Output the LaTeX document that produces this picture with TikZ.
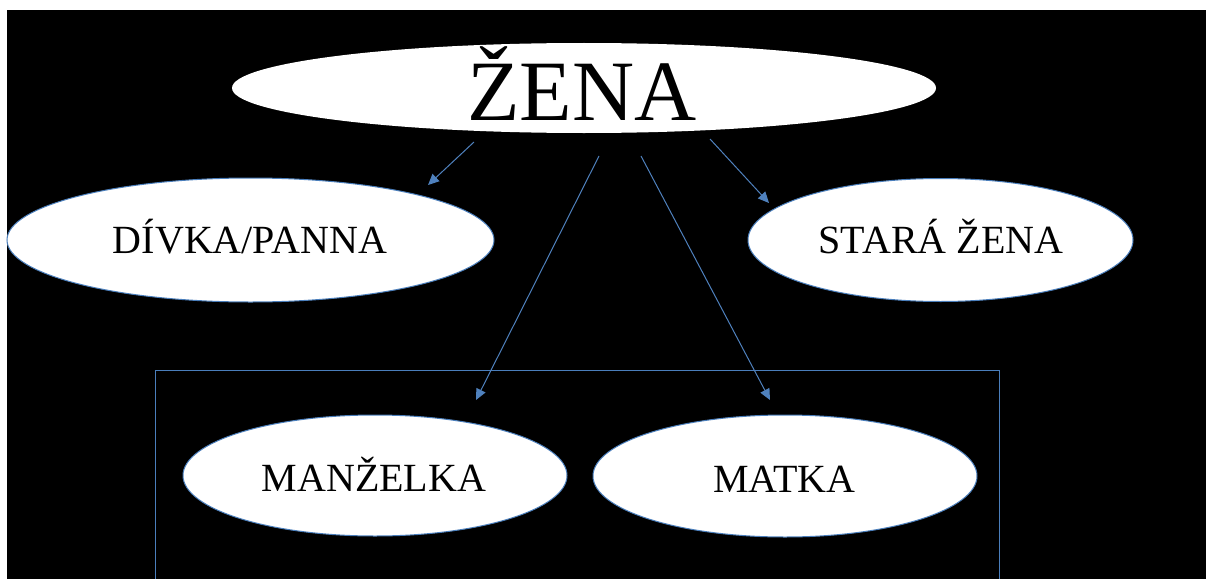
\documentclass[tikz,border=0pt]{standalone}
\usepackage{fontspec}
\setmainfont{Liberation Serif}
\usetikzlibrary{shapes.geometric,arrows.meta}
\definecolor{lineblue}{RGB}{79,129,189}
\definecolor{edgeblue}{RGB}{74,126,187}
\tikzset{
  oval/.style={ellipse, fill=white, draw=edgeblue, line width=1pt, inner sep=0pt},
  lbl/.style={anchor=base, inner sep=0pt, font=\fontsize{40}{48}\selectfont},
  conn/.style={draw=lineblue, line width=1pt, -{Triangle[length=11pt,width=10pt]}}
}
\begin{document}
\begin{tikzpicture}[x=1pt,y=-1pt]
\useasboundingbox (0,0) rectangle (1206,578);
\fill[white] (0,0) rectangle (1206,578);
\fill[black] (7,10) rectangle (1212,584);
% box
\draw[edgeblue, line width=1pt] (155.5,584) -- (155.5,370.5) -- (999,370.5) -- (999,584);
% ellipses
\node[ellipse, fill=white, inner sep=0pt, minimum width=704pt, minimum height=90pt] (zena) at (584,88) {};
\node[oval, minimum width=487pt, minimum height=124pt] (divka) at (250.5,240) {};
\node[oval, minimum width=385pt, minimum height=123pt] (stara) at (940.5,240) {};
\node[oval, minimum width=384pt, minimum height=121pt] (manzelka) at (375,475.5) {};
\node[oval, minimum width=384pt, minimum height=122pt] (matka) at (785,476) {};
% labels
\node[lbl, font=\fontsize{86}{100}\selectfont] (tzena) at (582,120) {ŽENA};
\node[lbl] (tdivka) at (250,253) {DÍVKA/PANNA};
\node[lbl] (tstara) at (941,253) {STARÁ ŽENA};
\node[lbl] (tmanzelka) at (374,491) {MANŽELKA};
\node[lbl] (tmatka) at (784.5,492) {MATKA};
% connector ends
\coordinate (s1) at (474,142);
\coordinate (e1) at (428,185);
\coordinate (s2) at (599,156);
\coordinate (e2) at (476,400);
\coordinate (s3) at (641,156);
\coordinate (e3) at (770,400);
\coordinate (s4) at (710,139);
\coordinate (e4) at (769,203);
\draw[conn] (s1) -- (e1);
\draw[conn] (s2) -- (e2);
\draw[conn] (s3) -- (e3);
\draw[conn] (s4) -- (e4);
\end{tikzpicture}
\end{document}
